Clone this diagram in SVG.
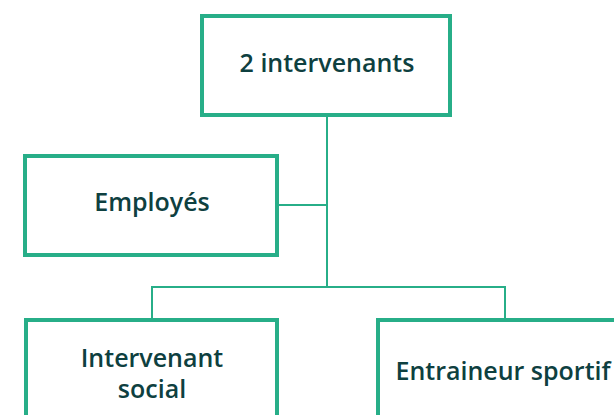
<svg xmlns="http://www.w3.org/2000/svg" width="614" height="415" viewBox="0 0 614 415">
<style>
.box{fill:#fff;stroke:#27ae88;stroke-width:4}
.lbl{font-family:"Open Sans","Noto Sans",sans-serif;font-weight:600;font-size:25px;fill:#0e4040;text-anchor:middle}
.conn{stroke:#27ae88;stroke-width:2;fill:none}
</style>
<rect width="614" height="415" fill="#fff"/>
<g id="connectors">
<path class="conn" d="M327 117V287"/>
<path class="conn" d="M279 205H327"/>
<path class="conn" d="M152 320V287H505V320"/>
</g>
<g id="n-top">
<rect class="box" x="202" y="16" width="248" height="99"/>
<text class="lbl" x="327" y="72">2 intervenants</text>
</g>
<g id="n-employes">
<rect class="box" x="25" y="156" width="252" height="99"/>
<text class="lbl" x="152" y="211">Employés</text>
</g>
<g id="n-social">
<rect class="box" x="26" y="320" width="251" height="110"/>
<text class="lbl" x="152" y="367">Intervenant</text>
<text class="lbl" x="152" y="398">social</text>
</g>
<g id="n-sport">
<rect class="box" x="378" y="320" width="251" height="110"/>
<text class="lbl" x="503" y="380">Entraineur sportif</text>
</g>
</svg>
